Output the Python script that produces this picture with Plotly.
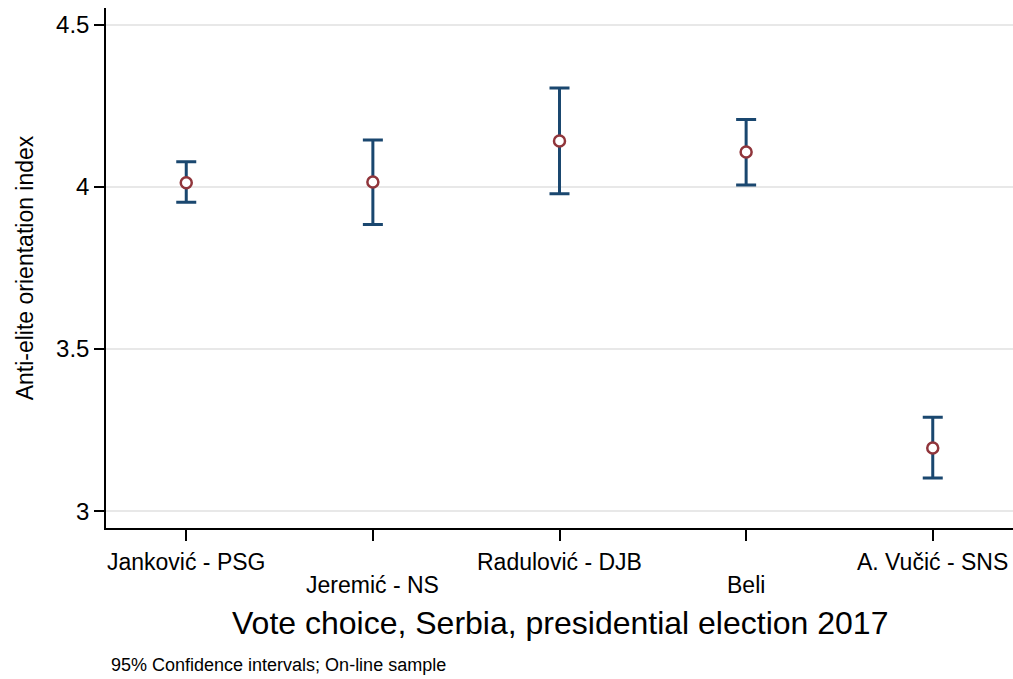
import plotly.graph_objects as go

categories = ["Janković - PSG", "Jeremić - NS", "Radulović - DJB", "Beli", "A. Vučić - SNS"]
positions = [1, 2, 3, 4, 5]
means = [4.013, 4.015, 4.142, 4.108, 3.195]
ci_low = [3.953, 3.884, 3.979, 4.006, 3.102]
ci_high = [4.078, 4.145, 4.305, 4.208, 3.290]
y_ticks = [3, 3.5, 4, 4.5]
y_ticklabels = ["3", "3.5", "4", "4.5"]

x_title = "Vote choice, Serbia, presidential election 2017"
y_title = "Anti-elite orientation index"
note = "95% Confidence intervals; On-line sample"

FONT = "Arial, Liberation Sans, sans-serif"
NAVY = "#1a476f"
MAROON = "#90353b"

err_plus = [h - m for h, m in zip(ci_high, means)]
err_minus = [m - l for m, l in zip(means, ci_low)]

fig = go.Figure()
fig.add_trace(go.Scatter(
    x=positions, y=means, mode="markers",
    marker=dict(size=1, color="rgba(0,0,0,0)"),
    error_y=dict(type="data", symmetric=False, array=err_plus, arrayminus=err_minus,
                 color=NAVY, thickness=3, width=10),
    showlegend=False, hoverinfo="skip",
))
fig.add_trace(go.Scatter(
    x=positions, y=means, mode="markers",
    marker=dict(symbol="circle", size=11, color="white",
                line=dict(color=MAROON, width=2.5)),
    showlegend=False,
))

# staggered category labels
for i, (p, c) in enumerate(zip(positions, categories)):
    fig.add_annotation(
        x=p, y=0, xref="x", yref="paper", text=c, showarrow=False,
        yanchor="middle", yshift=-34 if i % 2 == 0 else -57,
        font=dict(family=FONT, size=23, color="black"),
    )

fig.add_annotation(
    x=0.5, y=0, xref="paper", yref="paper", text=x_title, showarrow=False,
    yanchor="middle", yshift=-95, font=dict(family=FONT, size=32, color="black"),
)
fig.add_annotation(
    x=(109 - 106) / (1013 - 106), y=0, xref="paper", yref="paper", text=note, showarrow=False,
    xanchor="left", yanchor="middle", yshift=-137,
    font=dict(family=FONT, size=18, color="black"),
)

fig.update_layout(
    width=1013, height=679,
    margin=dict(l=106, r=0, t=8, b=151),
    plot_bgcolor="white", paper_bgcolor="white",
    font=dict(family=FONT, color="black"),
    xaxis=dict(
        range=[0.57, 5.43], tickvals=positions, showticklabels=False,
        ticks="outside", ticklen=11, tickwidth=1.5, tickcolor="black",
        showline=True, linecolor="black", linewidth=1.5,
        showgrid=False, zeroline=False,
    ),
    yaxis=dict(
        range=[2.948, 4.552], tickvals=y_ticks, ticktext=y_ticklabels,
        ticks="outside", ticklen=10, tickwidth=1.5, tickcolor="black",
        tickfont=dict(family=FONT, size=24, color="black"),
        showline=True, linecolor="black", linewidth=1.5,
        showgrid=True, gridcolor="#e8e8e8", gridwidth=1.5, zeroline=False,
        title=dict(text=y_title, font=dict(family=FONT, size=23, color="black"), standoff=16),
    ),
)

fig.write_html("out.html")
